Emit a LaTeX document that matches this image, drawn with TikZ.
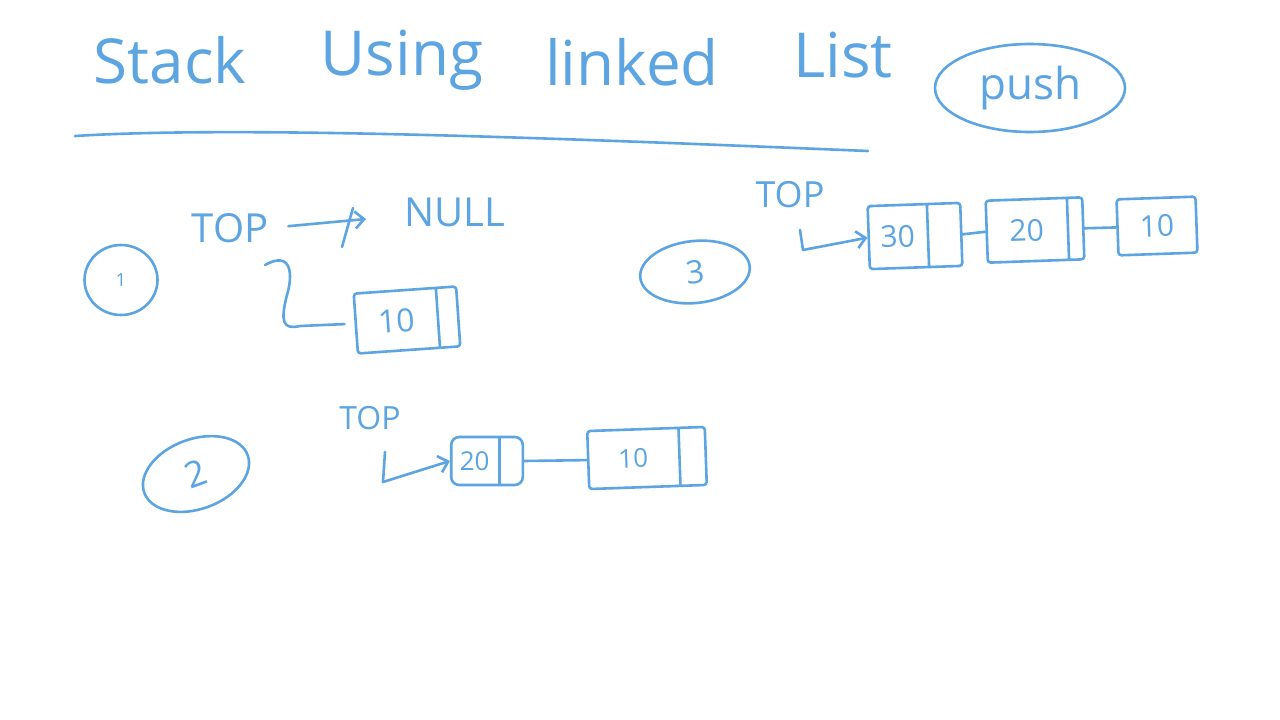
\documentclass[tikz,border=0pt]{standalone}
\usepackage{fontspec}
\setmainfont{Open Sans}
\usetikzlibrary{shapes.geometric,shapes.multipart,arrows.meta}
\definecolor{ink}{RGB}{92,164,226}
\newcommand{\fs}[1]{\fontsize{#1}{#1}\selectfont}
\begin{document}
\begin{tikzpicture}[x=1pt,y=-1pt,
  pen/.style={draw=ink, line width=2.6pt, line cap=round, line join=round},
  txt/.style={text=ink, inner sep=0pt},
  cell/.style={pen, rectangle split, rectangle split horizontal, rectangle split parts=2, inner sep=0pt, rounded corners=3pt, text=ink},
  plaincell/.style={pen, rectangle, inner sep=0pt, rounded corners=3pt, text=ink},
  ring/.style={pen, ellipse, inner sep=0pt, text=ink},
  arr/.style={pen, -{Straight Barb[length=9pt,width=17pt]}}]
\useasboundingbox[fill=white] (0,0) rectangle (1280,720);

% title
\node[txt, font=\fs{62}] (w1) at (170,60) {Stack};
\node[txt, font=\fs{62}] (w2) at (402,60) {Using};
\node[txt, font=\fs{62}] (w3) at (632,62) {linked};
\node[txt, font=\fs{62}] (w4) at (843,55) {List};
\draw[pen] (75,136) .. controls (250,125) and (600,140) .. (868,151);

\node[ring, minimum width=190pt, minimum height=88pt, font=\fs{44}] (push) at (1030,88) {push};

% section 1
\node[ring, minimum width=73pt, minimum height=70pt, font=\fs{18}] (c1) at (121,280) {1};
\node[txt, font=\fs{40}] (top1) at (230,228) {TOP};
\node[txt, font=\fs{40}] (null1) at (455,212) {NULL};
\coordinate (x1) at (366,219);
\draw[arr, shorten <=20pt] (top1.east) -- (x1);
\draw[pen] (353,208) -- (342,247);
\node[cell, minimum height=60pt, rotate=4] (b1) at (407,320)
  {\makebox[81pt]{\fs{32}10}\nodepart{two}\makebox[19pt]{}};
\coordinate (s1) at (265,265);
\draw[pen, shorten >=10pt] (s1) .. controls (292,250) and (293,275) .. (287,295)
  .. controls (280,322) and (283,330) .. (300,326) -- (b1.west);

% section 2
\node[ring, minimum width=110pt, minimum height=70pt, rotate=20, font=\fs{36}] (c2) at (196,474) {2};
\node[txt, font=\fs{32}] (top2) at (370,418) {TOP};
\node[cell, minimum height=48pt, rounded corners=8pt] (b2a) at (487,461)
  {\makebox[47pt]{\fs{26}20}\nodepart{two}\makebox[22pt]{}};
\node[cell, minimum height=58pt, rotate=2] (b2b) at (647,458)
  {\makebox[90pt]{\fs{26}10}\nodepart{two}\makebox[25pt]{}};
\coordinate (l2) at (385,452);
\draw[arr] (l2) -- (383,482) -- (b2a.west);
\draw[pen] (b2a.east) -- (b2b.west);

% section 3
\node[ring, minimum width=110pt, minimum height=62pt, rotate=6, font=\fs{32}] (c3) at (695,272) {3};
\node[txt, font=\fs{36}] (top3) at (790,195) {TOP};
\node[cell, minimum height=63pt, rotate=2] (b3a) at (915,236)
  {\makebox[58pt]{\fs{30}30}\nodepart{two}\makebox[32pt]{}};
\node[cell, minimum height=62pt, rotate=2] (b3b) at (1035,230)
  {\makebox[80pt]{\fs{30}20}\nodepart{two}\makebox[14pt]{}};
\node[plaincell, minimum height=56pt, minimum width=79pt, rotate=2, font=\fs{30}] (b3c) at (1157,226) {10};
\coordinate (l3) at (800,230);
\draw[arr] (l3) -- (803,250) -- (b3a.west);
\draw[pen] (b3a.east) -- (b3b.west);
\draw[pen] (b3b.east) -- (b3c.west);
\end{tikzpicture}
\end{document}
